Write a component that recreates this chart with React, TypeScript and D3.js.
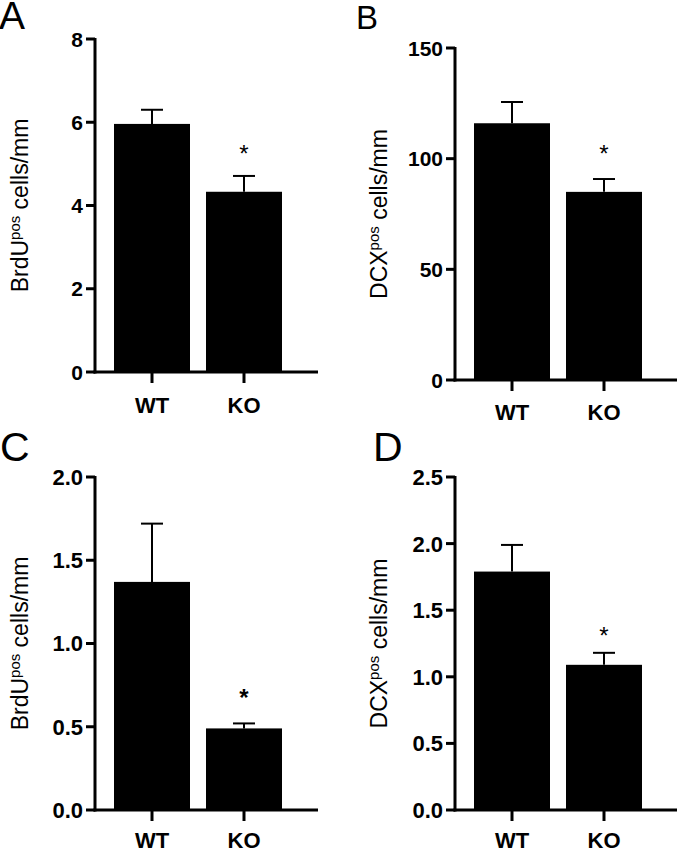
import React from "react";
import * as d3 from "d3";

const categories = ["WT", "KO"];

const meansA = [5.96, 4.33];
const errorsA = [0.34, 0.38];
const ticksA = [0, 2, 4, 6, 8];

const meansB = [116, 85];
const errorsB = [9.6, 5.8];
const ticksB = [0, 50, 100, 150];

const meansC = [1.37, 0.49];
const errorsC = [0.35, 0.03];
const ticksC = [0, 0.5, 1.0, 1.5, 2.0];

const meansD = [1.79, 1.09];
const errorsD = [0.2, 0.09];
const ticksD = [0, 0.5, 1.0, 1.5, 2.0, 2.5];

const significant = [false, true];

const FONT = "'Liberation Sans', Arial, Helvetica, sans-serif";

type PanelProps = {
  letter: string;
  letterX: number;
  letterY: number;
  letterSize: number;
  axisX: number;
  y0: number;
  yTop: number;
  xEnd: number;
  means: number[];
  errors: number[];
  ticks: number[];
  fmt: (v: number) => string;
  labelMain: string;
  labelX: number;
  catY: number;
  starGap: number;
  starWeight: string | number;
  tickWeight: string | number;
  tickSize: number;
};

function Panel(p: PanelProps) {
  const yMax = p.ticks[p.ticks.length - 1];
  const y = d3.scaleLinear().domain([0, yMax]).range([p.y0, p.yTop]);
  const x = d3
    .scaleBand<string>()
    .domain(categories)
    .range([p.axisX + 11, p.axisX + 195])
    .paddingInner(0.174)
    .paddingOuter(0.087);
  const bw = x.bandwidth();
  const capW = 22;
  const midY = (p.y0 + p.yTop) / 2;
  return (
    <g>
      <text x={p.letterX} y={p.letterY} fontSize={p.letterSize} fontFamily={FONT} fill="#000">
        {p.letter}
      </text>
      {categories.map((c, i) => {
        const cx = (x(c) as number) + bw / 2;
        const top = y(p.means[i]);
        const errTop = y(p.means[i] + p.errors[i]);
        return (
          <g key={c}>
            <rect x={x(c)} y={top} width={bw} height={p.y0 - top} fill="#000" />
            <line x1={cx} x2={cx} y1={top} y2={errTop} stroke="#000" strokeWidth={2} />
            <line x1={cx - capW / 2} x2={cx + capW / 2} y1={errTop} y2={errTop} stroke="#000" strokeWidth={2} />
            {significant[i] && (
              <text
                x={cx}
                y={errTop - p.starGap}
                textAnchor="middle"
                fontSize={24}
                fontWeight={p.starWeight}
                fontFamily={FONT}
                fill="#000"
              >
                *
              </text>
            )}
            <line x1={cx} x2={cx} y1={p.y0} y2={p.y0 + 11} stroke="#000" strokeWidth={3} />
            <text
              x={cx}
              y={p.catY}
              textAnchor="middle"
              fontSize={22}
              fontWeight="bold"
              fontFamily={FONT}
              fill="#000"
            >
              {c}
            </text>
          </g>
        );
      })}
      <line x1={p.axisX} x2={p.axisX} y1={p.y0 + 1.5} y2={p.yTop - 1} stroke="#000" strokeWidth={3} />
      <line x1={p.axisX - 1.5} x2={p.xEnd} y1={p.y0} y2={p.y0} stroke="#000" strokeWidth={3} />
      {p.ticks.map((t) => (
        <g key={t}>
          <line x1={p.axisX - 9} x2={p.axisX} y1={y(t)} y2={y(t)} stroke="#000" strokeWidth={3} />
          <text
            x={p.axisX - 12}
            y={y(t)}
            dy="0.36em"
            textAnchor="end"
            fontSize={p.tickSize}
            fontWeight={p.tickWeight}
            fontFamily={FONT}
            fill="#000"
          >
            {p.fmt(t)}
          </text>
        </g>
      ))}
      <text
        transform={`translate(${p.labelX},${midY}) rotate(-90)`}
        textAnchor="middle"
        fontSize={23}
        fontFamily={FONT}
        fill="#000"
      >
        {p.labelMain}
        <tspan fontSize={15} dy={-8}>
          pos
        </tspan>
        <tspan dy={8}> cells/mm</tspan>
      </text>
    </g>
  );
}

export default function App() {
  const f0 = d3.format("d");
  const f1 = d3.format(".1f");
  return (
    <svg
      width={680}
      height={853}
      style={{ position: "absolute", left: 0, top: 0, display: "block", background: "#fff" }}
    >
      <rect width={680} height={853} fill="#fff" />
      <Panel
        letter="A" letterX={-1} letterY={29} letterSize={39}
        axisX={95} y0={372} yTop={39} xEnd={318}
        means={meansA} errors={errorsA} ticks={ticksA} fmt={f0}
        labelMain="BrdU" labelX={28} catY={413} starGap={14} starWeight="normal"
        tickWeight="bold" tickSize={21}
      />
      <Panel
        letter="B" letterX={356} letterY={29} letterSize={33}
        axisX={455} y0={380} yTop={48} xEnd={677}
        means={meansB} errors={errorsB} ticks={ticksB} fmt={f0}
        labelMain="DCX" labelX={387} catY={420} starGap={17} starWeight="normal"
        tickWeight="bold" tickSize={21}
      />
      <Panel
        letter="C" letterX={0} letterY={461} letterSize={41}
        axisX={95} y0={810} yTop={477} xEnd={318}
        means={meansC} errors={errorsC} ticks={ticksC} fmt={f1}
        labelMain="BrdU" labelX={28} catY={848} starGap={17} starWeight="bold"
        tickWeight="bold" tickSize={22}
      />
      <Panel
        letter="D" letterX={373} letterY={461} letterSize={41}
        axisX={455} y0={810} yTop={477} xEnd={677}
        means={meansD} errors={errorsD} ticks={ticksD} fmt={f1}
        labelMain="DCX" labelX={387} catY={848} starGap={9} starWeight="normal"
        tickWeight="bold" tickSize={22}
      />
    </svg>
  );
}
